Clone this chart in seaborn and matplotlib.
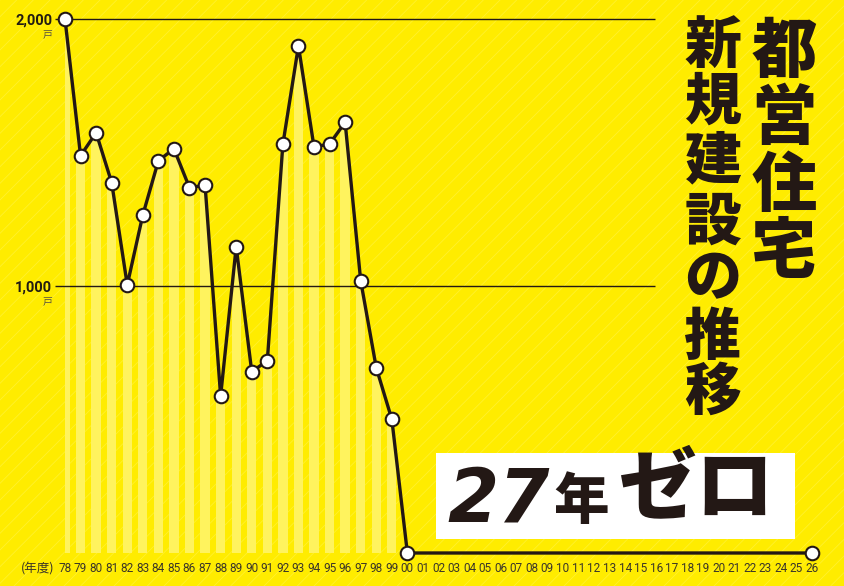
import matplotlib
matplotlib.use("Agg")
import matplotlib.pyplot as plt
from matplotlib.patches import Rectangle
import seaborn as sns
import pandas as pd

# ---- data ----
year_labels = ["78", "79", "80", "81", "82", "83", "84", "85", "86", "87", "88",
               "89", "90", "91", "92", "93", "94", "95", "96", "97", "98", "99",
               "00", "01", "02", "03", "04", "05", "06", "07", "08", "09", "10",
               "11", "12", "13", "14", "15", "16", "17", "18", "19", "20", "21",
               "22", "23", "24", "25", "26"]
units_1978_1999 = [2000, 1488, 1574, 1387, 1004, 1266, 1469, 1514, 1368, 1378, 588,
                   1147, 679, 720, 1531, 1899, 1521, 1532, 1613, 1020, 694, 501]
units_2000_2026 = [0, 0, 0, 0, 0, 0, 0, 0, 0, 0, 0, 0, 0, 0, 0, 0, 0, 0, 0, 0,
                   0, 0, 0, 0, 0, 0, 0]
marked_years = ["78", "79", "80", "81", "82", "83", "84", "85", "86", "87", "88",
                "89", "90", "91", "92", "93", "94", "95", "96", "97", "98", "99",
                "00", "26"]
y_ticks = [1000, 2000]
y_tick_labels = ["1,000", "2,000"]
title_right = "都営住宅"
title_left = "新規建設の推移"
headline_num = "27"
headline_year = "年"
headline_zero = "ゼロ"

units = units_1978_1999 + units_2000_2026
df = pd.DataFrame({"label": year_labels, "idx": range(len(year_labels)), "units": units})
df_marked = df[df["label"].isin(marked_years)]
df_bars = df.iloc[:len(units_1978_1999)]

# ---- style ----
YELLOW = "#FFEC00"
STRIPE = "#FFF35E"
INK = "#231815"
W, H = 845, 586
LATIN = ["Roboto", "DejaVu Sans"]

sns.set_theme(style="white")
plt.rcParams["font.family"] = ["Noto Sans CJK JP", "DejaVu Sans"]
plt.rcParams["hatch.linewidth"] = 0.6

fig = plt.figure(figsize=(W / 100, H / 100), dpi=100)
fig.patch.set_facecolor(YELLOW)
bg = Rectangle((0, 0), 1, 1, transform=fig.transFigure, facecolor=YELLOW,
               edgecolor="#FFF12E", hatch="//", lw=0, zorder=-10)
fig.patches.append(bg)

# axes placement (pixels)
left_px, bottom_px = 55, 553
ax = fig.add_axes([left_px / W, (H - bottom_px) / H, 1 - left_px / W, bottom_px / H])
ax.set_facecolor("none")
px_per_year = 747 / 48
x0_px = 65
ax.set_xlim(-(x0_px - left_px) / px_per_year, (W - x0_px) / px_per_year)
px_per_unit = (553 - 19) / 2000
ax.set_ylim(0, 553 / px_per_unit)

# stripes under the line
sns.barplot(data=df_bars, x="idx", y="units", native_scale=True, width=0.6,
            color=STRIPE, saturation=1, ax=ax, zorder=1)
area = ax.fill_between(df["idx"], df["units"], 0, color="none", lw=0)
clip = area.get_paths()[0]
for p in ax.patches:
    p.set_clip_path(clip, ax.transData)
    p.set_linewidth(0)

# grid lines
ax.hlines(y_ticks, xmin=ax.get_xlim()[0], xmax=(655 - x0_px) / px_per_year,
          color=INK, lw=1.0, zorder=2)

# line and markers
sns.lineplot(data=df, x="idx", y="units", color=INK, linewidth=2.4, ax=ax,
             zorder=3, clip_on=False, legend=False)
sns.scatterplot(data=df_marked, x="idx", y="units", s=95, color="white",
                edgecolor=INK, linewidth=1.5, ax=ax, zorder=4, clip_on=False,
                legend=False)

for s in ax.spines.values():
    s.set_visible(False)
ax.grid(False)
ax.set_xlabel("")
ax.set_ylabel("")

ax.set_xticks(df["idx"], labels=year_labels)
ax.tick_params(axis="x", length=0, pad=6.5, labelsize=8.5, labelcolor="#3b3628")
for t in ax.get_xticklabels():
    t.set_fontfamily(LATIN)
ax.set_yticks(y_ticks, labels=y_tick_labels)
ax.tick_params(axis="y", length=0, pad=2, labelsize=10.5, labelcolor="#221c12")
for t in ax.get_yticklabels():
    t.set_fontfamily(LATIN)
    t.set_fontweight("bold")

# 戸 unit labels
for v in y_ticks:
    ax.text(ax.get_xlim()[0] - 0.18, v - 15 / px_per_unit, "戸", ha="right",
            va="center", fontsize=7, color="#555040")

ax.text(ax.get_xlim()[0] - 0.05, -16 / px_per_unit, "(年度)", ha="right", va="center",
        fontsize=9, color="#3b3628", clip_on=False)

# ---- title (vertical) ----
def fx(x):
    return x / W

def fy(y):
    return 1 - y / H

right_centers = [53, 120, 187, 253]
for ch, yc in zip(title_right, right_centers):
    fig.text(fx(784), fy(yc), ch, ha="center", va="center", fontsize=47,
             fontweight="heavy", color=INK)
left_centers = [47, 103, 162, 223, 280, 339, 393]
for ch, yc in zip(title_left, left_centers):
    fig.text(fx(713), fy(yc), ch, ha="center", va="center", fontsize=41,
             fontweight="heavy", color=INK)

# ---- headline box ----
fig.patches.append(Rectangle((fx(436), fy(539)), (795 - 436) / W, (539 - 453) / H,
                             transform=fig.transFigure, facecolor="white",
                             edgecolor="none", zorder=5))
fig.text(fx(447), fy(522), headline_num, ha="left", va="baseline", fontsize=53,
         fontweight="bold", style="oblique", family=["DejaVu Sans"],
         color=INK, zorder=6)
fig.text(fx(581), fy(503), headline_year, ha="center", va="center", fontsize=40,
         fontweight="heavy", color=INK, zorder=6)
fig.text(fx(619), fy(489), headline_zero, ha="left", va="center", fontsize=56,
         fontweight="heavy", color=INK, zorder=6)

fig.savefig("out.png", dpi=100, facecolor=YELLOW)
